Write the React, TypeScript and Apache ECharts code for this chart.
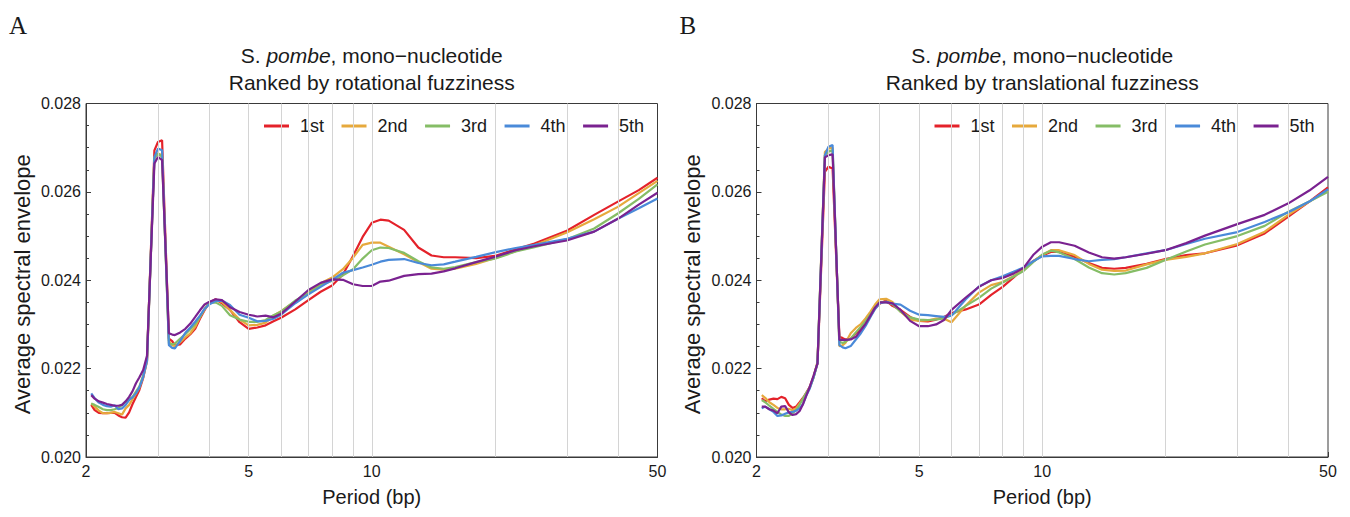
import React, { useEffect, useRef } from "react";
import * as echarts from "echarts";

// ---------- data ----------
const periods = [
  2.06, 2.1, 2.15, 2.2, 2.25, 2.3, 2.35, 2.4, 2.45, 2.5,
  2.55, 2.6, 2.65, 2.7, 2.76, 2.82, 2.94, 3.0, 3.07, 3.19,
  3.25, 3.3, 3.4, 3.5, 3.6, 3.7, 3.8, 3.9, 4.0, 4.15,
  4.3, 4.5, 4.75, 5.0, 5.25, 5.5, 5.75, 6.0, 6.5, 7.0,
  7.5, 8.0, 8.5, 9.0, 9.5, 10, 10.5, 11, 12, 13,
  14, 15, 16, 18, 20, 22.5, 25, 30, 35, 40,
  45, 50,
];

const rankNames = ["1st", "2nd", "3rd", "4th", "5th"];
const rankColors = ["#E4222A", "#E6A93C", "#85BD66", "#4A8AD9", "#7A2290"];

// Panel A: ranked by rotational fuzziness
const rot1 = [
  0.02118, 0.02106, 0.021, 0.02099, 0.02099, 0.021, 0.021, 0.02094, 0.0209, 0.02089,
  0.02101, 0.0212, 0.02136, 0.02151, 0.02179, 0.02219, 0.02694, 0.02713, 0.02717, 0.02268,
  0.02262, 0.02253, 0.02255, 0.02268, 0.02278, 0.0229, 0.02313, 0.02332, 0.02349, 0.02357,
  0.02348, 0.02333, 0.02305, 0.0229, 0.02293, 0.02298, 0.02307, 0.02315, 0.02334, 0.02355,
  0.02374, 0.02388, 0.02413, 0.02455, 0.02498, 0.0253, 0.02537, 0.02535, 0.02514, 0.02474,
  0.02456, 0.02452, 0.02452, 0.0245, 0.02455, 0.0247, 0.02483, 0.02512, 0.02548, 0.02578,
  0.02604, 0.02632,
];
const rot2 = [
  0.02121, 0.02114, 0.02105, 0.02099, 0.02099, 0.021, 0.02102, 0.02099, 0.02096, 0.0211,
  0.02118, 0.02131, 0.02144, 0.02157, 0.02181, 0.02216, 0.02679, 0.02687, 0.02683, 0.02263,
  0.02253, 0.02251, 0.0226, 0.02271, 0.0228, 0.02295, 0.02317, 0.02334, 0.02349, 0.02355,
  0.02351, 0.02333, 0.02311, 0.02298, 0.02299, 0.02304, 0.0232, 0.0233, 0.02352, 0.02372,
  0.02393, 0.02406, 0.02425, 0.02451, 0.0248, 0.02485, 0.02485, 0.02476, 0.02459, 0.02441,
  0.02426, 0.02424, 0.02426, 0.02437, 0.0245, 0.02466, 0.02479, 0.02508, 0.02538, 0.02566,
  0.02597, 0.02625,
];
const rot3 = [
  0.02121, 0.02118, 0.02113, 0.02108, 0.02106, 0.02106, 0.02108, 0.02111, 0.02118, 0.02125,
  0.02131, 0.02136, 0.02148, 0.02159, 0.02185, 0.02225, 0.02676, 0.02687, 0.02679, 0.02257,
  0.02255, 0.02257, 0.02268, 0.02278, 0.02289, 0.02301, 0.02317, 0.02335, 0.02348, 0.0235,
  0.02342, 0.02321, 0.02311, 0.02306, 0.02306, 0.0231, 0.02321, 0.02329, 0.02354, 0.0237,
  0.02389, 0.02399, 0.02411, 0.02425, 0.02449, 0.02468, 0.02474, 0.02473, 0.02462, 0.02443,
  0.02429, 0.02426, 0.0243, 0.02441, 0.02449, 0.02465, 0.02475, 0.02493, 0.02517, 0.02551,
  0.02584, 0.02617,
];
const rot4 = [
  0.02144, 0.02133, 0.02123, 0.02118, 0.02115, 0.02114, 0.02117, 0.02108, 0.0211, 0.02118,
  0.02129, 0.02135, 0.02144, 0.02157, 0.02181, 0.02217, 0.02679, 0.02698, 0.02694, 0.02253,
  0.02247, 0.02246, 0.02263, 0.02281, 0.02293, 0.02306, 0.0232, 0.02335, 0.02345, 0.02353,
  0.02354, 0.02344, 0.02322, 0.02315, 0.02307, 0.02308, 0.02313, 0.02322, 0.02348, 0.02368,
  0.02385, 0.02401, 0.02417, 0.02423, 0.02429, 0.02435, 0.02442, 0.02446, 0.02448, 0.02439,
  0.02434, 0.02436, 0.02442, 0.02453, 0.02463, 0.02473, 0.0248, 0.02494, 0.0251, 0.02539,
  0.02563, 0.02585,
];
const rot5 = [
  0.0214, 0.02132, 0.02126, 0.02123, 0.0212, 0.02118, 0.02116, 0.02116, 0.02118, 0.02126,
  0.02136, 0.02149, 0.02167, 0.0218, 0.02197, 0.02229, 0.02664, 0.02679, 0.02672, 0.0228,
  0.02277, 0.02276, 0.02282, 0.0229, 0.02302, 0.02317, 0.02332, 0.02345, 0.02351, 0.02357,
  0.02355, 0.02339, 0.02328, 0.02322, 0.02318, 0.0232, 0.02316, 0.02324, 0.02352, 0.02378,
  0.02394, 0.02402, 0.02401, 0.02391, 0.02387, 0.02387, 0.02397, 0.02399, 0.0241, 0.02414,
  0.02415, 0.0242, 0.02427, 0.02441, 0.02453, 0.02468, 0.02477, 0.0249, 0.0251, 0.02539,
  0.02571, 0.02598,
];

// Panel B: ranked by translational fuzziness
const trans1 = [
  0.02133, 0.02126, 0.0213, 0.02132, 0.02131, 0.02136, 0.02133, 0.02118, 0.02111, 0.02114,
  0.02124, 0.02134, 0.02146, 0.02159, 0.02183, 0.02212, 0.02645, 0.02657, 0.02653, 0.02272,
  0.02269, 0.02266, 0.02267, 0.0228, 0.0229, 0.02302, 0.02319, 0.02336, 0.02347, 0.02354,
  0.02342, 0.02333, 0.02317, 0.02308, 0.02307, 0.02311, 0.02317, 0.02326, 0.02334, 0.02345,
  0.02367, 0.02385, 0.02406, 0.02427, 0.02443, 0.02456, 0.02464, 0.02464, 0.02453, 0.02439,
  0.02428, 0.02426, 0.02428, 0.02437, 0.02448, 0.02457, 0.02461, 0.02479, 0.02506, 0.02544,
  0.02578, 0.0261,
];
const trans2 = [
  0.0214, 0.02134, 0.02124, 0.02118, 0.02111, 0.02108, 0.02108, 0.02109, 0.02106, 0.0211,
  0.02121, 0.02131, 0.02144, 0.02157, 0.02181, 0.02216, 0.0269, 0.02698, 0.027, 0.02251,
  0.02253, 0.02258, 0.0228, 0.02292, 0.02301, 0.02314, 0.02329, 0.02345, 0.02357, 0.02358,
  0.02351, 0.02329, 0.02311, 0.02308, 0.02309, 0.02313, 0.02313, 0.02305, 0.02343, 0.02372,
  0.02389, 0.02396, 0.02409, 0.02425, 0.02443, 0.02457, 0.02468, 0.02468, 0.02457, 0.02437,
  0.02424, 0.02421, 0.02422, 0.02436, 0.02446, 0.02453, 0.02461, 0.02482, 0.0251, 0.02548,
  0.02578, 0.02603,
];
const trans3 = [
  0.02129, 0.02124, 0.02116, 0.02109, 0.02102, 0.02096, 0.02093, 0.02093, 0.02099, 0.02106,
  0.02118, 0.02133, 0.02146, 0.02157, 0.02181, 0.02212, 0.02683, 0.02691, 0.02694, 0.02261,
  0.02258, 0.02261, 0.02268, 0.02282, 0.02295, 0.02308, 0.02323, 0.02338, 0.0235, 0.02351,
  0.02346, 0.02329, 0.02316, 0.02311, 0.0231, 0.02311, 0.02314, 0.02321, 0.02342, 0.0236,
  0.02381, 0.02395, 0.02408, 0.02421, 0.02441, 0.02458, 0.02467, 0.02463, 0.02448, 0.02429,
  0.02416, 0.02413, 0.02416, 0.02428, 0.02446, 0.02465, 0.02481, 0.025, 0.02523, 0.02555,
  0.02578, 0.026,
];
const trans4 = [
  0.0211, 0.02114, 0.02108, 0.02102, 0.02093, 0.02094, 0.02098, 0.02101, 0.02102, 0.02105,
  0.0211, 0.0212, 0.0214, 0.02155, 0.02181, 0.02212, 0.02683, 0.02702, 0.02706, 0.02253,
  0.02248, 0.02246, 0.02251, 0.02266, 0.0228, 0.02297, 0.02317, 0.02335, 0.02348, 0.02351,
  0.02347, 0.02345, 0.02331, 0.02322, 0.02321, 0.02319, 0.02317, 0.0232, 0.02357, 0.02386,
  0.024, 0.02409, 0.02419, 0.02429, 0.02443, 0.02454, 0.02455, 0.02455, 0.02448, 0.02443,
  0.02446, 0.02448, 0.02452, 0.02461, 0.02468, 0.02482, 0.02494, 0.02509, 0.02532, 0.02554,
  0.02578, 0.02606,
];
const trans5 = [
  0.02114, 0.02114, 0.02108, 0.02105, 0.02099, 0.02114, 0.02115, 0.02101, 0.02095, 0.02097,
  0.02104, 0.0212, 0.0214, 0.02159, 0.02185, 0.02212, 0.02678, 0.02683, 0.02685, 0.02265,
  0.02265, 0.02265, 0.02266, 0.02272, 0.02287, 0.02302, 0.0232, 0.02338, 0.0235, 0.0235,
  0.02348, 0.02333, 0.02308, 0.02296, 0.02296, 0.023, 0.0231, 0.02333, 0.02361, 0.02385,
  0.024, 0.02405, 0.02415, 0.02428, 0.02457, 0.02476, 0.02486, 0.02486, 0.02478, 0.02463,
  0.02452, 0.02449, 0.02452, 0.0246, 0.02468, 0.02484, 0.02501, 0.02527, 0.02548, 0.02574,
  0.02603, 0.02634,
];

const xTickValues = [2, 5, 10, 50];
const gridPeriods = [3, 4, 5, 6, 7, 8, 9, 10, 20, 30, 40];
const yMin = 0.02;
const yMax = 0.028;
const yStep = 0.002;

const panels = [
  { letter: "A", subtitle: "Ranked by rotational fuzziness", series: [rot1, rot2, rot3, rot4, rot5] },
  { letter: "B", subtitle: "Ranked by translational fuzziness", series: [trans1, trans2, trans3, trans4, trans5] },
];

// ---------- layout ----------
const FONT = "'Liberation Sans', Arial, Helvetica, sans-serif";
const GRID_LEFTS = [86, 756.5];
const GRID_TOP = 103.5;
const GRID_W = 571.5;
const GRID_H = 353.5;
const TEXT = "#1a1a1a";
const FRAME = "#3a3a3a";

function pairs(ys: number[]) {
  return periods.map((p, i) => [p, ys[i]]);
}

export default function App() {
  const ref = useRef<HTMLDivElement>(null);

  useEffect(() => {
    if (!ref.current) return;
    const chart = echarts.init(ref.current, null, { renderer: "svg" });

    const grid: any[] = [];
    const xAxis: any[] = [];
    const yAxis: any[] = [];
    const series: any[] = [];
    const legend: any[] = [];
    const graphic: any[] = [];

    panels.forEach((panel, pi) => {
      const left = GRID_LEFTS[pi];
      const cx = left + GRID_W / 2;
      grid.push({
        left,
        top: GRID_TOP,
        width: GRID_W,
        height: GRID_H,
        show: true,
        borderColor: FRAME,
        borderWidth: 1,
        backgroundColor: "transparent",
      });
      xAxis.push({
        type: "log",
        logBase: 10,
        gridIndex: pi,
        min: 2,
        max: 50,
        axisLine: { show: true, lineStyle: { color: FRAME, width: 1 } },
        axisTick: {
          show: true,
          inside: true,
          length: 5,
          customValues: xTickValues,
          lineStyle: { color: FRAME },
        },
        axisLabel: {
          customValues: xTickValues,
          fontSize: 16,
          fontFamily: FONT,
          color: TEXT,
          margin: 6,
          formatter: (v: number) => String(Math.round(v)),
        },
        splitLine: { show: false },
        minorTick: { show: false },
        minorSplitLine: { show: false },
      });
      yAxis.push({
        type: "value",
        gridIndex: pi,
        min: yMin,
        max: yMax,
        interval: yStep,
        axisLine: { show: true, lineStyle: { color: FRAME, width: 1 } },
        axisTick: { show: true, inside: true, length: 5, lineStyle: { color: FRAME } },
        minorTick: { show: true, splitNumber: 4, length: 3, lineStyle: { color: FRAME } },
        axisLabel: {
          fontSize: 16,
          fontFamily: FONT,
          color: TEXT,
          margin: 5,
          formatter: (v: number) => v.toFixed(3),
        },
        splitLine: { show: false },
      });

      // vertical grid lines
      series.push({
        type: "line",
        xAxisIndex: pi,
        yAxisIndex: pi,
        data: [],
        z: 1,
        silent: true,
        markLine: {
          silent: true,
          symbol: ["none", "none"],
          label: { show: false },
          lineStyle: { color: "#d4d4d4", width: 1, type: "solid" },
          data: gridPeriods.map((p) => ({ xAxis: p })),
        },
      });

      panel.series.forEach((vals, si) => {
        series.push({
          type: "line",
          name: rankNames[si],
          xAxisIndex: pi,
          yAxisIndex: pi,
          data: pairs(vals),
          showSymbol: false,
          symbol: "none",
          smooth: false,
          silent: true,
          z: 3,
          lineStyle: { width: 2.2, color: rankColors[si] },
          itemStyle: { color: rankColors[si] },
        });
      });

      legend.push({
        data: rankNames.map((n, i) => ({ name: n, itemStyle: { color: rankColors[i] } })),
        left: left + 173,
        top: 112,
        icon: "rect",
        itemWidth: 25,
        itemHeight: 3,
        itemGap: 17.5,
        selectedMode: false,
        textStyle: {
          fontSize: 18,
          fontFamily: FONT,
          color: TEXT,
          padding: [0, 0, 0, 6],
        },
      });

      graphic.push(
        {
          type: "text",
          x: left - 77,
          y: 25,
          style: {
            text: panel.letter,
            fontSize: 25,
            fontFamily: "'Liberation Serif', 'DejaVu Serif', serif",
            fill: TEXT,
            align: "left",
            verticalAlign: "middle",
          },
        },
        {
          type: "text",
          x: cx,
          y: 55,
          style: {
            text: "S. {i|pombe}, mono\u2212nucleotide",
            fontSize: 21,
            fontFamily: FONT,
            fill: TEXT,
            align: "center",
            verticalAlign: "middle",
            rich: { i: { fontStyle: "italic", fontSize: 21, fontFamily: FONT, fill: TEXT } },
          },
        },
        {
          type: "text",
          x: cx,
          y: 82,
          style: {
            text: panel.subtitle,
            fontSize: 21,
            fontFamily: FONT,
            fill: TEXT,
            align: "center",
            verticalAlign: "middle",
          },
        },
        {
          type: "text",
          x: left - 64,
          y: GRID_TOP + GRID_H / 2 + 4,
          rotation: Math.PI / 2,
          style: {
            text: "Average spectral envelope",
            fontSize: 22,
            fontFamily: FONT,
            fill: TEXT,
            align: "center",
            verticalAlign: "middle",
          },
        },
        {
          type: "text",
          x: cx,
          y: 497,
          style: {
            text: "Period (bp)",
            fontSize: 20,
            fontFamily: FONT,
            fill: TEXT,
            align: "center",
            verticalAlign: "middle",
          },
        }
      );
    });

    chart.setOption({
      animation: false,
      backgroundColor: "#ffffff",
      grid,
      xAxis,
      yAxis,
      series,
      legend,
      graphic,
    });

    return () => chart.dispose();
  }, []);

  return (
    <div
      ref={ref}
      style={{ position: "absolute", left: 0, top: 0, width: 1350, height: 517 }}
    />
  );
}
